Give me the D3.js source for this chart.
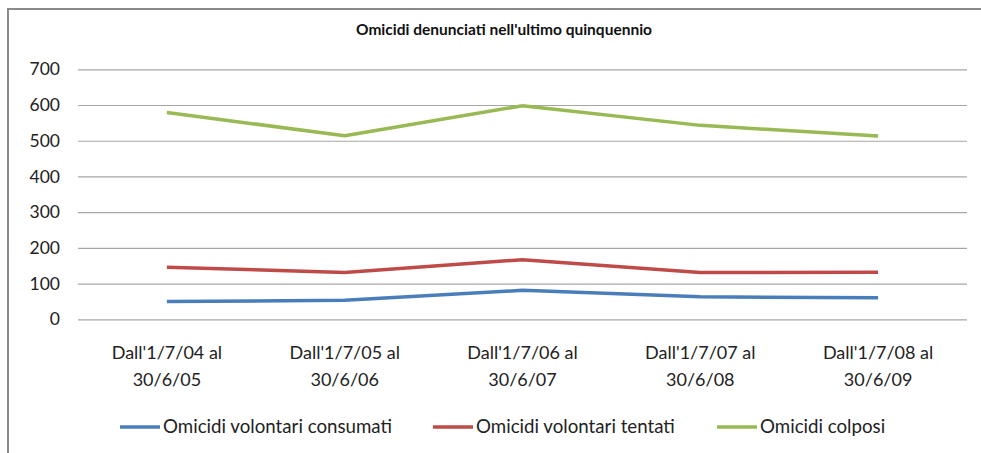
<!DOCTYPE html>
<html><head><meta charset="utf-8">
<script src="https://cdn.jsdelivr.net/npm/d3@7"></script>
<style>body{margin:0;background:#fff}svg{display:block}</style>
</head><body>
<script>
const categories = [["Dall'1/7/04 al","30/6/05"],["Dall'1/7/05 al","30/6/06"],["Dall'1/7/06 al","30/6/07"],["Dall'1/7/07 al","30/6/08"],["Dall'1/7/08 al","30/6/09"]];
const consumati = [50, 53, 81, 63, 60];
const tentati = [146, 131, 167, 131, 132];
const colposi = [579, 514, 598, 543, 513];
const seriesNames = ["Omicidi volontari consumati","Omicidi volontari tentati","Omicidi colposi"];
const yTicks = [0,100,200,300,400,500,600,700];
const title = "Omicidi denunciati nell'ultimo quinquennio";

const W = 981, H = 453;
const colors = ["#4a7ebb","#be4b48","#98b954"];
const font = "Lato, 'Open Sans', sans-serif";
const svg = d3.select("body").append("svg").attr("width",W).attr("height",H);
svg.append("rect").attr("width",W).attr("height",H).attr("fill","#fff");
// chart frame
svg.append("path").attr("d",`M8,${H+5} L8,9 L${W+5},9`).attr("fill","none").attr("stroke","#8a8a8a").attr("stroke-width",2);

const x = d3.scaleBand().domain(d3.range(categories.length)).range([78,967]);
const y = d3.scaleLinear().domain([0,700]).range([319.3,69.3]);

const yAxis = svg.append("g").attr("transform","translate(78,0)")
  .call(d3.axisLeft(y).tickValues(yTicks).tickSize(-889).tickPadding(18));
yAxis.select(".domain").remove();
yAxis.selectAll(".tick line").attr("stroke","#a6a6a6").attr("stroke-width",1.2);
yAxis.selectAll(".tick text").attr("font-family",font).attr("font-size",17.5).attr("fill","#222");

const xAxis = svg.append("g").attr("transform","translate(0,319.3)")
  .call(d3.axisBottom(x).tickSize(0).tickFormat(""));
xAxis.select(".domain").remove();
xAxis.selectAll(".tick").each(function(d){
  const t = d3.select(this).select("text").attr("y",0).attr("dy",null)
    .attr("font-family",font).attr("font-size",18).attr("fill","#222").attr("text-anchor","middle");
  t.append("tspan").attr("x",0).attr("y",40).text(categories[d][0]);
  t.append("tspan").attr("x",0).attr("y",67).text(categories[d][1]);
});

const line = d3.line().x((d,i)=>x(i)+x.bandwidth()/2).y(d=>y(d));
[consumati,tentati,colposi].forEach((s,k)=>{
  svg.append("path").datum(s).attr("d",line).attr("fill","none")
    .attr("stroke",colors[k]).attr("stroke-width",3.5).attr("stroke-linejoin","round");
});

svg.append("text").attr("x",504).attr("y",35).attr("text-anchor","middle")
  .attr("font-family",font).attr("font-weight","bold").attr("font-size",15.5).attr("fill","#111").text(title);

// legend
const legX = [120,433,717];
seriesNames.forEach((n,k)=>{
  svg.append("line").attr("x1",legX[k]).attr("x2",legX[k]+40).attr("y1",427).attr("y2",427)
    .attr("stroke",colors[k]).attr("stroke-width",3.5);
  svg.append("text").attr("x",legX[k]+43).attr("y",433).attr("font-family",font).attr("font-size",18.7)
    .attr("fill","#222").text(n);
});
</script>
</body></html>
